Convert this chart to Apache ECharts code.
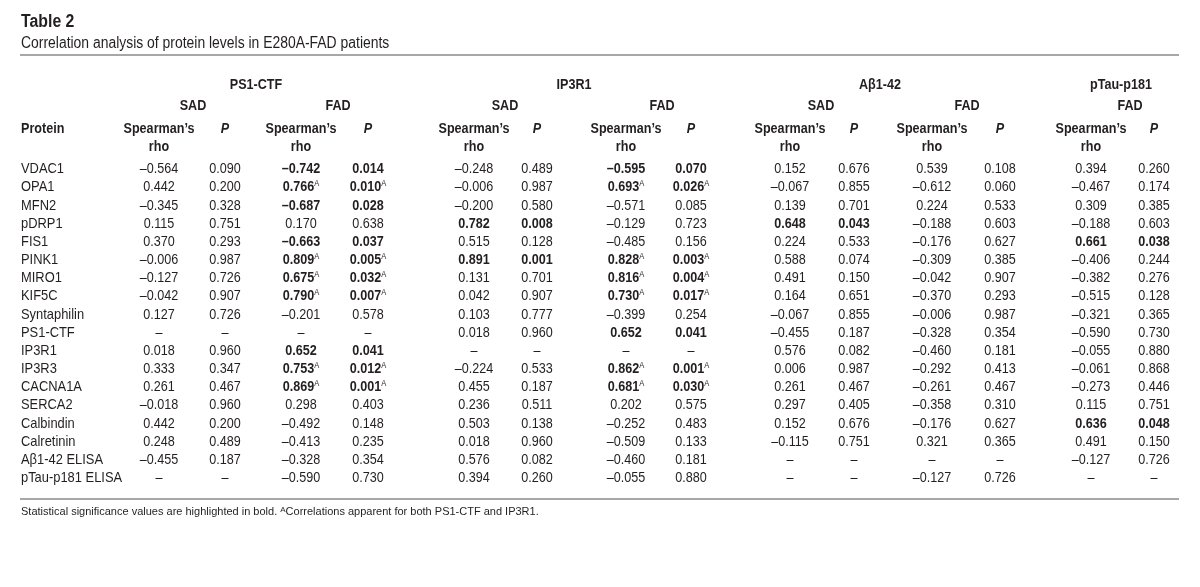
<!DOCTYPE html>
<html>
<head>
<meta charset="utf-8">
<title>Table 2</title>
<script src="https://cdn.jsdelivr.net/npm/echarts@6/dist/echarts.min.js"></script>
<style>
  html, body { margin: 0; padding: 0; background: #fff; }
  #chart { width: 1200px; height: 587px; }
</style>
</head>
<body>
<div id="chart"></div>
<script>
// ---- data ----
const proteins = ['VDAC1', 'OPA1', 'MFN2', 'pDRP1', 'FIS1', 'PINK1', 'MIRO1', 'KIF5C', 'Syntaphilin',
  'PS1-CTF', 'IP3R1', 'IP3R3', 'CACNA1A', 'SERCA2', 'Calbindin', 'Calretinin', 'Aβ1-42 ELISA', 'pTau-p181 ELISA'];

const markers = ['PS1-CTF', 'IP3R1', 'Aβ1-42', 'pTau-p181'];
const cohorts = ['SAD', 'FAD', 'SAD', 'FAD', 'SAD', 'FAD', 'FAD'];

// null = not applicable
const ps1SadRho = [-0.564, 0.442, -0.345, 0.115, 0.370, -0.006, -0.127, -0.042, 0.127, null, 0.018, 0.333, 0.261, -0.018, 0.442, 0.248, -0.455, null];
const ps1SadP   = [0.090, 0.200, 0.328, 0.751, 0.293, 0.987, 0.726, 0.907, 0.726, null, 0.960, 0.347, 0.467, 0.960, 0.200, 0.489, 0.187, null];
const ps1FadRho = [-0.742, 0.766, -0.687, 0.170, -0.663, 0.809, 0.675, 0.790, -0.201, null, 0.652, 0.753, 0.869, 0.298, -0.492, -0.413, -0.328, -0.590];
const ps1FadP   = [0.014, 0.010, 0.028, 0.638, 0.037, 0.005, 0.032, 0.007, 0.578, null, 0.041, 0.012, 0.001, 0.403, 0.148, 0.235, 0.354, 0.730];
const ip3SadRho = [-0.248, -0.006, -0.200, 0.782, 0.515, 0.891, 0.131, 0.042, 0.103, 0.018, null, -0.224, 0.455, 0.236, 0.503, 0.018, 0.576, 0.394];
const ip3SadP   = [0.489, 0.987, 0.580, 0.008, 0.128, 0.001, 0.701, 0.907, 0.777, 0.960, null, 0.533, 0.187, 0.511, 0.138, 0.960, 0.082, 0.260];
const ip3FadRho = [-0.595, 0.693, -0.571, -0.129, -0.485, 0.828, 0.816, 0.730, -0.399, 0.652, null, 0.862, 0.681, 0.202, -0.252, -0.509, -0.460, -0.055];
const ip3FadP   = [0.070, 0.026, 0.085, 0.723, 0.156, 0.003, 0.004, 0.017, 0.254, 0.041, null, 0.001, 0.030, 0.575, 0.483, 0.133, 0.181, 0.880];
const abSadRho  = [0.152, -0.067, 0.139, 0.648, 0.224, 0.588, 0.491, 0.164, -0.067, -0.455, 0.576, 0.006, 0.261, 0.297, 0.152, -0.115, null, null];
const abSadP    = [0.676, 0.855, 0.701, 0.043, 0.533, 0.074, 0.150, 0.651, 0.855, 0.187, 0.082, 0.987, 0.467, 0.405, 0.676, 0.751, null, null];
const abFadRho  = [0.539, -0.612, 0.224, -0.188, -0.176, -0.309, -0.042, -0.370, -0.006, -0.328, -0.460, -0.292, -0.261, -0.358, -0.176, 0.321, null, -0.127];
const abFadP    = [0.108, 0.060, 0.533, 0.603, 0.627, 0.385, 0.907, 0.293, 0.987, 0.354, 0.181, 0.413, 0.467, 0.310, 0.627, 0.365, null, 0.726];
const tauFadRho = [0.394, -0.467, 0.309, -0.188, 0.661, -0.406, -0.382, -0.515, -0.321, -0.590, -0.055, -0.061, -0.273, 0.115, 0.636, 0.491, -0.127, null];
const tauFadP   = [0.260, 0.174, 0.385, 0.603, 0.038, 0.244, 0.276, 0.128, 0.365, 0.730, 0.880, 0.868, 0.446, 0.751, 0.048, 0.150, 0.726, null];

// significance: 0 = plain, 1 = bold, 2 = bold + correlation apparent for both (A)
const ps1SadSig = [0, 0, 0, 0, 0, 0, 0, 0, 0, 0, 0, 0, 0, 0, 0, 0, 0, 0];
const ps1FadSig = [1, 2, 1, 0, 1, 2, 2, 2, 0, 0, 1, 2, 2, 0, 0, 0, 0, 0];
const ip3SadSig = [0, 0, 0, 1, 0, 1, 0, 0, 0, 0, 0, 0, 0, 0, 0, 0, 0, 0];
const ip3FadSig = [1, 2, 0, 0, 0, 2, 2, 2, 0, 1, 0, 2, 2, 0, 0, 0, 0, 0];
const abSadSig  = [0, 0, 0, 1, 0, 0, 0, 0, 0, 0, 0, 0, 0, 0, 0, 0, 0, 0];
const abFadSig  = [0, 0, 0, 0, 0, 0, 0, 0, 0, 0, 0, 0, 0, 0, 0, 0, 0, 0];
const tauFadSig = [0, 0, 0, 0, 1, 0, 0, 0, 0, 0, 0, 0, 0, 0, 1, 0, 0, 0];

const groupRho = [ps1SadRho, ps1FadRho, ip3SadRho, ip3FadRho, abSadRho, abFadRho, tauFadRho];
const groupP   = [ps1SadP, ps1FadP, ip3SadP, ip3FadP, abSadP, abFadP, tauFadP];
const groupSig = [ps1SadSig, ps1FadSig, ip3SadSig, ip3FadSig, abSadSig, abFadSig, tauFadSig];

// ---- layout (column centres on a 0..1200 x scale) ----
const nameX = 21;
const rhoX = [159, 301, 474, 626, 790, 932, 1091];
const pX   = [225, 368, 537, 691, 854, 1000, 1154];
const markerX = [256, 574, 880, 1121];
const cohortX = [193, 338, 505, 662, 821, 967, 1130];

// Liberation Sans squeezed horizontally stands in for a condensed grotesque
const FONT = '"Liberation Sans", Arial, sans-serif';
const SQUEEZE = 0.84;
const INK = '#231f20';

const fmt = v => v === null ? '–' : (v < 0 ? '–' : '') + Math.abs(v).toFixed(3);

const cells = [];
groupRho.forEach((rho, g) => {
  rho.forEach((v, r) => {
    cells.push([rhoX[g], r, fmt(v), groupSig[g][r]]);
    cells.push([pX[g], r, fmt(groupP[g][r]), groupSig[g][r]]);
  });
});

const cellText = (txt, sig) => {
  if (sig === 0) return '{n|' + txt + '}';
  if (sig === 1) return '{b|' + txt + '}';
  return '{b|' + txt + '}{s|A}';
};

const richStyles = {
  n: { fontFamily: FONT, fontSize: 15, fill: INK, lineHeight: 16 },
  b: { fontFamily: FONT, fontSize: 15, fontWeight: 'bold', fill: INK, lineHeight: 16 },
  s: { fontFamily: FONT, fontSize: 9, fill: INK, verticalAlign: 'top', lineHeight: 16 }
};

const headerText = (x, y, text, extra) => ({
  type: 'text', x: x, y: y, scaleX: SQUEEZE,
  style: Object.assign({ text: text, font: 'bold 15px ' + FONT, fill: INK, align: 'center', verticalAlign: 'middle' }, extra || {})
});

const graphics = [
  { type: 'text', x: 21, y: 22, scaleX: 0.88, style: { text: 'Table 2', font: 'bold 18px ' + FONT, fill: INK, verticalAlign: 'middle' } },
  { type: 'text', x: 21, y: 44, scaleX: 0.87, style: { text: 'Correlation analysis of protein levels in E280A-FAD patients', font: '16px ' + FONT, fill: INK, verticalAlign: 'middle' } },
  { type: 'line', shape: { x1: 20, y1: 55, x2: 1179, y2: 55 }, style: { stroke: '#a7a7a7', lineWidth: 2 } },
  { type: 'line', shape: { x1: 20, y1: 499, x2: 1179, y2: 499 }, style: { stroke: '#a7a7a7', lineWidth: 2 } },
  {
    type: 'text', x: 21, y: 512,
    style: {
      text: '{t|Statistical significance values are highlighted in bold. }{s|A}{t|Correlations apparent for both PS1-CTF and IP3R1.}',
      verticalAlign: 'middle',
      rich: {
        t: { fontFamily: FONT, fontSize: 11, fill: INK, lineHeight: 13 },
        s: { fontFamily: FONT, fontSize: 8, fill: INK, verticalAlign: 'top', lineHeight: 13 }
      }
    }
  },
  headerText(21, 129, 'Protein', { align: 'left' })
];
markers.forEach((m, i) => graphics.push(headerText(markerX[i], 85, m)));
cohorts.forEach((c, i) => graphics.push(headerText(cohortX[i], 106, c)));
rhoX.forEach((x, i) => {
  graphics.push(headerText(x, 129, 'Spearman\u2019s'));
  graphics.push(headerText(x, 147, 'rho'));
  graphics.push(headerText(pX[i], 129, 'P', { font: 'italic bold 15px ' + FONT }));
});

const chart = echarts.init(document.getElementById('chart'));

const option = {
  backgroundColor: '#fff',
  animation: false,
  grid: { left: 0, right: 0, top: 160, bottom: 100 },
  xAxis: { type: 'value', min: 0, max: 1200, show: false },
  yAxis: {
    type: 'category',
    data: proteins,
    inverse: true,
    axisLine: { show: false },
    axisTick: { show: false },
    splitLine: { show: false },
    axisLabel: { show: false }
  },
  graphic: graphics,
  series: [
    {
      // protein names, one per row of the category axis
      type: 'custom',
      data: proteins.map((p, r) => [nameX, r]),
      renderItem: function (params, api) {
        const pt = api.coord([api.value(0), api.value(1)]);
        return {
          type: 'text',
          x: pt[0], y: pt[1], scaleX: 0.86,
          style: {
            text: proteins[params.dataIndex],
            font: '15px ' + FONT,
            fill: INK,
            align: 'left',
            verticalAlign: 'middle'
          }
        };
      }
    },
    {
      type: 'custom',
      data: cells,
      renderItem: function (params, api) {
        const pt = api.coord([api.value(0), api.value(1)]);
        const c = cells[params.dataIndex];
        return {
          type: 'text',
          x: pt[0], y: pt[1], scaleX: SQUEEZE,
          style: {
            text: cellText(c[2], c[3]),
            rich: richStyles,
            align: 'center',
            verticalAlign: 'middle'
          }
        };
      }
    }
  ]
};

chart.setOption(option);
window.addEventListener('resize', () => chart.resize());
</script>
</body>
</html>
